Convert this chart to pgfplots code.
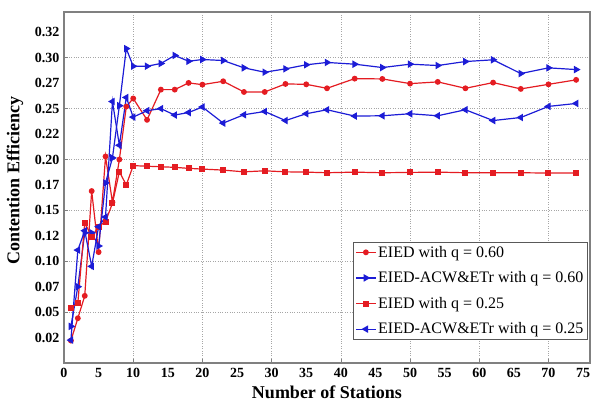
\documentclass[border=0pt]{standalone}
\usepackage{fontspec}
\setmainfont{Liberation Serif}
\usepackage{pgfplots}
\pgfplotsset{compat=1.18}
\definecolor{cred}{RGB}{228,28,34}
\definecolor{cblue}{RGB}{28,28,214}
\begin{document}
\begin{tikzpicture}
\begin{axis}[
  name=ax, at={(0,0)}, anchor=south west,
  width=526pt, height=351pt, scale only axis,
  xmin=0, xmax=76, ymin=0, ymax=0.345,
  axis line style={draw=gray, line width=1.2pt},
  xtick={10,20,...,70}, xticklabels={},
  ytick={0.05,0.10,...,0.31}, yticklabels={},
  grid=major,
  major grid style={dotted, gray!70, line width=0.6pt},
  major tick length=4pt,
  tick style={gray, line width=0.6pt},
  tick align=inside,
  xtick pos=bottom, ytick pos=left,
  extra x ticks={0,5,...,75},
  extra x tick labels={0,5,10,15,20,25,30,35,40,45,50,55,60,65,70,75},
  extra x tick style={grid=none, major tick length=0pt},
  extra y ticks={0.025,0.05,0.075,0.1,0.125,0.15,0.175,0.2,0.225,0.25,0.275,0.3,0.325},
  extra y tick labels={0.02,0.05,0.07,0.10,0.12,0.15,0.17,0.20,0.22,0.25,0.27,0.30,0.32},
  extra y tick style={grid=none, major tick length=0pt},
  tick label style={font=\fontsize{14}{16}\selectfont\bfseries, black},
  xticklabel style={yshift=-2pt},
  yticklabel style={xshift=-1pt},
  xlabel={\textbf{Number of Stations}},
  ylabel={\textbf{Contention Efficiency}},
  label style={font=\fontsize{18}{21}\selectfont},
  xlabel style={at={(axis description cs:0.5,-0.083)}, anchor=center},
  ylabel style={at={(axis description cs:-0.093,0.52)}, anchor=center},
  legend style={at={(rel axis cs:0.996,0.066)}, anchor=south east,
    font=\fontsize{16}{19}\selectfont, draw=gray!70!black, line width=0.8pt,
    inner sep=2pt, row sep=9pt, cells={anchor=west}},
  legend image code/.code={
    \draw[mark repeat=2,mark phase=2,#1] plot coordinates {(0cm,0cm) (0.34cm,0cm) (0.68cm,0cm)};},
]
\addplot[cred, line width=1.2pt, mark=*, mark size=2.3pt] coordinates {
(1,0.022) (2,0.044) (3,0.066) (4,0.169) (5,0.109) (6,0.203) (7,0.158) (8,0.200) (9,0.252) (10,0.260)
(12,0.239) (14,0.2687) (16,0.2687) (18,0.2753) (20,0.2736) (23,0.2769) (26,0.2664) (29,0.2664) (32,0.2743)
(35,0.2739) (38,0.270) (42,0.2795) (46,0.2792) (50,0.2746) (54,0.2763) (58,0.270) (62,0.2756) (66,0.2694)
(70,0.2739) (74,0.2783)};
\addlegendentry{EIED with q = 0.60}
\addplot[cblue, line width=1.2pt, mark=triangle*, mark size=3.2pt, mark options={rotate=-90}] coordinates {
(1,0.036) (2,0.075) (3,0.128) (4,0.128) (5,0.115) (6,0.177) (7,0.2016) (8,0.2529) (9,0.309) (10,0.2917)
(12,0.2917) (14,0.2944) (16,0.3023) (18,0.2966) (20,0.2983) (23,0.2973) (26,0.2901) (29,0.2858) (32,0.2891)
(35,0.2931) (38,0.2954) (42,0.2937) (46,0.2904) (50,0.2937) (54,0.2924) (58,0.2963) (62,0.298) (66,0.2845)
(70,0.2901) (74,0.2884)};
\addlegendentry{EIED-ACW\&ETr with q = 0.60}
\addplot[cred, line width=1.2pt, mark=square*, mark size=2.4pt] coordinates {
(1,0.054) (2,0.059) (3,0.138) (4,0.124) (5,0.134) (6,0.139) (7,0.157) (8,0.188) (9,0.175) (10,0.194)
(12,0.1934) (14,0.1929) (16,0.1923) (18,0.1913) (20,0.1906) (23,0.1896) (26,0.1879) (29,0.1889) (32,0.1879)
(35,0.1876) (38,0.187) (42,0.1876) (46,0.187) (50,0.1873) (54,0.1876) (58,0.187) (62,0.187) (66,0.187)
(70,0.1867) (74,0.1867)};
\addlegendentry{EIED with q = 0.25}
\addplot[cblue, line width=1.2pt, mark=triangle*, mark size=3.2pt, mark options={rotate=90}] coordinates {
(1,0.0225) (2,0.111) (3,0.130) (4,0.095) (5,0.134) (6,0.1435) (7,0.257) (8,0.214) (9,0.261) (10,0.2417)
(12,0.248) (14,0.250) (16,0.2437) (18,0.2462) (20,0.2516) (23,0.2358) (26,0.2440) (29,0.2472) (32,0.2383)
(35,0.2450) (38,0.2489) (42,0.2427) (46,0.2430) (50,0.2450) (54,0.2430) (58,0.2489) (62,0.2383) (66,0.2413)
(70,0.2522) (74,0.2551)};
\addlegendentry{EIED-ACW\&ETr with q = 0.25}
\end{axis}
\pgfresetboundingbox
\path (-64pt,-38pt) rectangle (527pt,363pt);
\end{tikzpicture}
\end{document}
